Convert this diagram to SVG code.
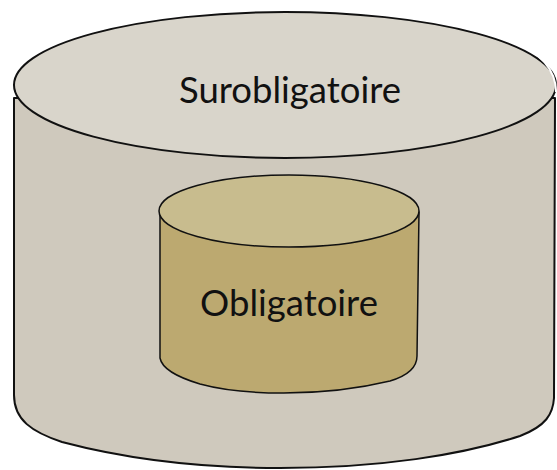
<svg xmlns="http://www.w3.org/2000/svg" width="557" height="470" viewBox="0 0 557 470">
<style>
.lbl{font-family:Lato,"Open Sans","Liberation Sans",sans-serif;fill:#111;text-anchor:middle}
.edge{stroke:#111;stroke-linejoin:round;stroke-linecap:round}
</style>
<rect width="557" height="470" fill="#ffffff"/>
<g id="surobligatoire">
<path class="edge" d="M14,98 L14,395 C14,420 32,432 62,442 C130,460 200,468 280,468 C380,468 462,455 520,436 C546,426 553,414 554,398 L555,98 Z" fill="#cfc9bd" stroke-width="2"/>
<ellipse class="edge" cx="285" cy="85" rx="271" ry="73" fill="#d9d5cb" stroke-width="2"/>
<path d="M510,40 C540,52 556,70 556,92" fill="none" stroke="#ffffff" stroke-width="2"/>
<text class="lbl" x="290" y="103" font-size="36.5">Surobligatoire</text>
</g>
<g id="obligatoire">
<path class="edge" d="M160,210 L160,358 C162,369 180,378 200,384 C240,395 320,398 390,381 C410,375 417,366 417,356 L419,212 Z" fill="#bca970" stroke-width="1.5"/>
<ellipse class="edge" cx="289" cy="211" rx="130" ry="36" fill="#c8bc8e" stroke-width="1.5"/>
<text class="lbl" x="289" y="316" font-size="36.5">Obligatoire</text>
</g>
</svg>
